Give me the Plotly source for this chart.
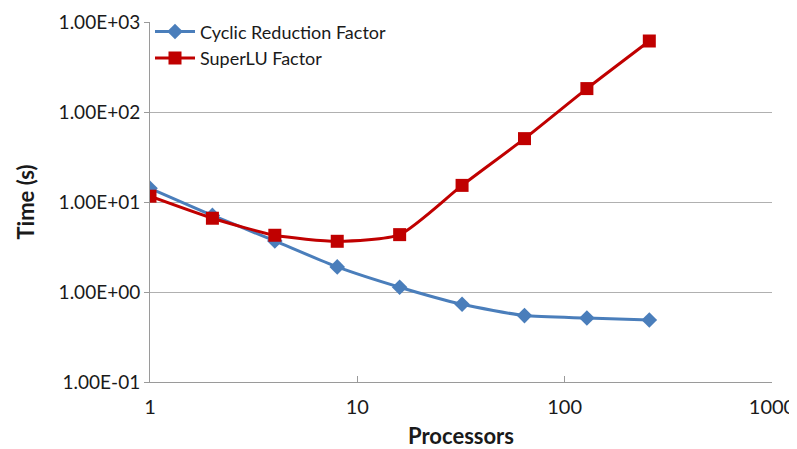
import plotly.graph_objects as go

processors = [1, 2, 4, 8, 16, 32, 64, 128, 256]
cyclic_reduction = [14.2, 7.1, 3.69, 1.90, 1.13, 0.73, 0.547, 0.514, 0.489]
superlu = [11.6, 6.6, 4.27, 3.66, 4.34, 15.3, 50.6, 182, 615]

y_tickvals = [0.1, 1, 10, 100, 1000]
y_ticktext = ["1.00E-01", "1.00E+00", "1.00E+01", "1.00E+02", "1.00E+03"]
x_tickvals = [1, 10, 100, 1000]
x_ticktext = ["1", "10", "100", "1000"]

font_family = "Lato, Open Sans, sans-serif"

fig = go.Figure()
fig.add_trace(go.Scatter(
    x=processors, y=cyclic_reduction, name="Cyclic Reduction Factor",
    mode="lines+markers", line=dict(color="#4A7EBB", width=3, shape="spline", smoothing=0.6),
    marker=dict(symbol="diamond", size=12, color="#4A7EBB"),
))
fig.add_trace(go.Scatter(
    x=processors, y=superlu, name="SuperLU Factor",
    mode="lines+markers", line=dict(color="#C00000", width=3, shape="spline", smoothing=0.6),
    marker=dict(symbol="square", size=13, color="#C00000"),
))

# page body has an 8px margin, so the figure is shrunk by 8px on each axis
fig.update_layout(
    width=789, height=441,
    margin=dict(l=142, r=25, t=14, b=67, autoexpand=False),
    paper_bgcolor="white", plot_bgcolor="white",
    font=dict(family=font_family, size=17, color="#1a1a1a"),
    showlegend=True,
    legend=dict(x=0.0, y=1.024, xanchor="left", yanchor="top",
                bgcolor="rgba(0,0,0,0)", font=dict(size=18, color="#1a1a1a"),
                tracegroupgap=0, itemwidth=40),
)
fig.update_xaxes(
    type="log", range=[0, 3], tickvals=x_tickvals, ticktext=x_ticktext,
    showgrid=False, showline=True, linecolor="#9A9A9A", linewidth=1,
    ticks="inside", ticklen=6, tickcolor="#9A9A9A", ticklabelstandoff=7,
    tickfont=dict(size=20), zeroline=False, automargin=False,
    title=dict(text="<b>Processors</b>", font=dict(size=22), standoff=13),
)
fig.update_yaxes(
    type="log", range=[-1, 3], tickvals=y_tickvals, ticktext=y_ticktext,
    showgrid=True, gridcolor="#B0B0B0", gridwidth=1,
    showline=True, linecolor="#9A9A9A", linewidth=1,
    ticks="outside", ticklen=5, tickcolor="#9A9A9A",
    tickfont=dict(size=19), zeroline=False, automargin=False,
    title=dict(text="<b>Time (s)</b>", font=dict(size=22), standoff=17),
)

fig.write_html("out.html")
